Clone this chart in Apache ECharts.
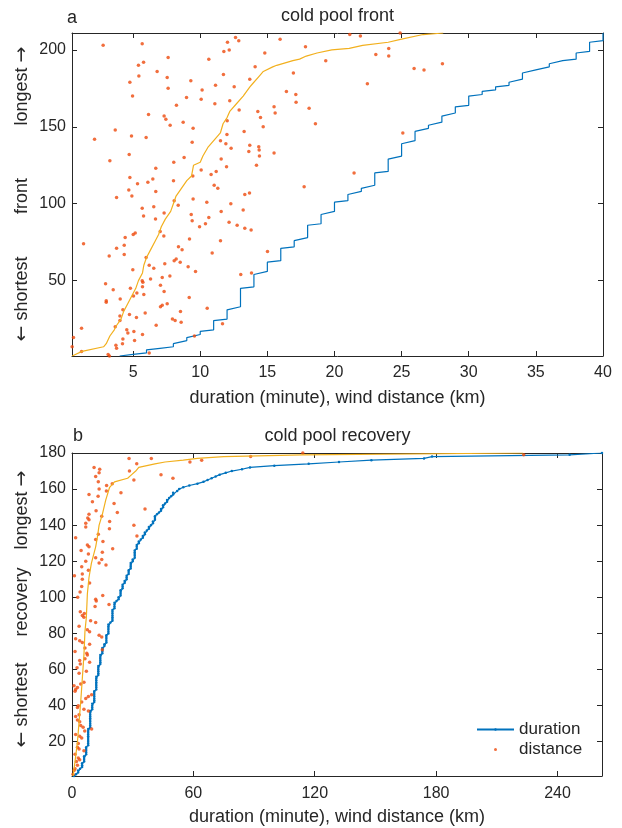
<!DOCTYPE html>
<html><head><meta charset="utf-8">
<script src="https://cdn.jsdelivr.net/npm/echarts@6/dist/echarts.min.js"></script>
<style>html,body{margin:0;padding:0;background:#fff}#c{width:622px;height:828px}</style>
</head><body><div id="c"></div>
<script>
// ---------- panel a : cold pool front ----------
const frontDurMinutes = [4,5,6,7,8,9,10,11,12,13,14,15,16,17,18,19,20,21,22,23,24,25,26,27,28,29,30,31,32,33,34,35,36,37,38,39,40];
const frontDurCounts  = [1,1,3,1,4,4,3,7,8,13,10,7,9,6,9,8,7,6,4,9,10,10,8,4,6,5,7,3,3,4,6,2,4,1,5,7,6];
const frontSortedRank = [1,4,7,9,14,18,20,25,30,35,40,45,50,55,60,65,70,75,80,85,90,95,100,105,110,115,118,125,127,131,137,142,146,152,156,160,165,170,176,178,183,186,189,190,193,194,196,198,200,201,203,205,207,210,211];
const frontSortedDist = [0.46,1.2,2.8,3.0,3.27,3.6,3.7,4.1,4.3,4.6,4.9,5.2,5.4,5.7,5.8,6.0,6.3,6.6,6.9,7.1,7.4,7.8,8.0,8.2,8.6,9.0,9.35,9.5,10.0,10.2,10.6,11.1,11.5,11.7,12.0,12.2,12.7,13.2,13.7,13.9,14.4,14.7,15.4,15.7,16.9,17.4,17.9,18.7,19.8,21.1,22.1,24.0,25.0,26.6,28.1];
// [wind distance km, rank]
const frontDots = [[3.24,1],[3.14,2],[6.2,3],[1.16,4],[3.77,6],[0.46,7],[3.72,8],[4.21,9],[5.11,11],[4.24,12],[0.56,13],[9.57,14],[5.7,15],[4.61,16],[5.06,17],[4.53,18],[1.16,19],[3.67,20],[6.72,21],[11.66,22],[8.58,23],[8.13,24],[4.02,24],[7.93,25],[5.25,26],[4.02,27],[4.73,28],[5.9,29],[8.53,30],[4.24,31],[10.52,32],[7.04,33],[7.17,34],[7.54,35],[3.0,36],[3.0,37],[4.04,38],[9.18,39],[5.03,40],[5.8,41],[5.28,42],[7.31,43],[3.52,44],[4.8,45],[5.7,46],[7.04,47],[2.95,48],[5.73,49],[5.68,50],[6.3,51],[7.17,52],[7.74,53],[13.02,54],[13.82,55],[9.65,56],[4.98,57],[6.54,58],[9.1,59],[6.2,60],[7.36,61],[8.51,62],[8.06,63],[8.21,64],[5.97,65],[3.22,66],[4.34,67],[10.89,68],[15.01,69],[8.65,70],[3.77,71],[8.38,72],[4.34,73],[1.31,74],[11.51,76],[9.2,77],[4.41,78],[7.29,79],[5.01,80],[5.16,81],[7.02,82],[13.79,83],[13.32,84],[9.95,85],[12.75,86],[10.39,87],[12.15,88],[9.4,89],[6.67,90],[10.64,91],[5.78,92],[9.33,93],[7.31,94],[11.56,95],[13.2,96],[5.68,97],[6.54,98],[8.36,99],[12.28,100],[10.49,101],[8.06,102],[9.47,103],[3.77,104],[4.91,105],[13.32,106],[13.67,107],[6.69,108],[4.68,109],[11.31,110],[17.74,111],[11.04,112],[5.33,113],[6.1,114],[8.01,115],[6.47,116],[4.76,117],[9.45,118],[10.81,119],[21.46,120],[11.19,121],[10.07,122],[6.69,123],[11.96,124],[14.19,125],[8.03,127],[3.27,128],[11.56,129],[8.8,130],[14.41,131],[4.71,132],[15.5,133],[13.62,134],[14.39,135],[12.3,136],[14.36,137],[13.69,138],[11.91,139],[9.4,140],[11.51,141],[2.13,142],[5.97,143],[4.88,144],[11.99,145],[25.09,146],[13.27,147],[3.67,148],[9.47,149],[14.69,150],[7.76,151],[18.58,152],[8.73,153],[12.01,154],[7.44,155],[14.49,156],[7.31,157],[6.15,158],[15.58,159],[14.29,160],[12.9,161],[18.11,162],[15.5,163],[8.23,164],[11.09,165],[17.14,166],[12.2,167],[10.07,168],[8.98,169],[4.96,170],[17.12,171],[16.42,173],[10.14,174],[7.61,175],[12.53,176],[11.14,177],[22.45,178],[4.76,179],[9.3,180],[13.69,181],[7.54,182],[5.43,183],[11.73,184],[16.94,185],[6.79,186],[26.67,187],[25.93,188],[14.09,189],[5.4,190],[28.04,191],[5.78,192],[19.35,193],[10.64,194],[7.61,195],[24.04,196],[23.08,197],[14.81,198],[11.76,199],[12.16,200],[24.04,201],[17.84,202],[2.77,203],[5.68,204],[12.03,205],[12.87,206],[15.95,207],[12.63,208],[21.93,209],[21.14,210],[24.89,211]];
const frontXRange = [0.45, 40];
const frontYRange = [1, 211];
const frontXTicks = [5,10,15,20,25,30,35,40];
const frontYTicks = [50,100,150,200];

// ---------- panel b : cold pool recovery ----------
const recDurMinutes = [1,2,3,4,5,6,7,8,9,10,11,12,13,14,15,16,17,18,19,20,21,22,23,24,25,26,27,28,29,30,31,32,33,34,35,36,37,38,39,40,41,42,43,44,45,46,47,48,49,50,52,53,55,58,62,65,67,69,71,73,76,79,84,88,100,117,132,148,174,178,246,262];
const recDurCounts  = [1,1,2,1,3,4,5,10,10,4,7,8,6,6,4,2,5,6,1,7,4,1,2,4,3,2,3,3,4,2,5,3,2,1,2,2,1,2,1,2,3,1,1,2,2,1,2,1,1,2,1,1,1,1,1,1,1,1,1,1,1,1,1,1,1,1,1,1,1,1,1,1];
const recSortedRank = [1,9,20,31,42,55,68,81,89,102,111,119,128,133,140,146,154,161,164,166,168,170,172,174,175,176,177,178,179,180];
const recSortedDist = [0.5,1.5,2.7,3.5,4.3,5.1,5.9,6.4,7.1,7.6,8.4,9.6,11.7,12.5,13.4,15.0,16.7,18.6,21.0,27.5,29.5,31.5,33.0,41.0,46.0,55.0,62.0,75.0,114.0,223.0];
const recDots = [[0.5,2],[1.0,4],[1.5,5],[2.7,7],[2.2,9],[3.8,10],[3.1,11],[1.5,13],[5.9,15],[3.5,16],[2.7,17],[3.1,19],[4.8,22],[3.8,23],[1.8,24],[6.3,26],[9.7,27],[5.5,28],[4.3,29],[3.8,31],[2.7,32],[1.8,34],[3.5,35],[8.1,37],[5.9,38],[2.7,39],[3.1,40],[4.8,42],[6.8,44],[8.1,45],[9.7,46],[1.5,48],[1.8,49],[2.7,50],[1.0,51],[4.3,52],[5.9,53],[3.5,58],[7.1,59],[2.5,61],[4.1,63],[8.7,64],[3.8,65],[6.4,66],[7.6,68],[7.3,69],[1.5,70],[15.0,71],[6.4,72],[8.7,74],[5.1,75],[3.8,76],[1.8,77],[14.7,78],[13.4,79],[8.7,81],[7.6,82],[3.5,84],[11.7,86],[9.2,87],[5.9,89],[5.1,90],[6.1,91],[4.1,92],[11.4,95],[18.3,96],[12.0,98],[11.7,99],[2.8,100],[15.2,101],[4.0,103],[4.8,106],[8.7,108],[5.1,110],[1.2,112],[5.1,113],[8.1,115],[4.8,117],[16.8,118],[13.4,119],[6.8,120],[14.7,121],[11.7,122],[8.1,124],[15.0,125],[4.5,126],[20.1,127],[8.4,128],[7.6,129],[15.3,131],[11.7,132],[1.8,133],[32.1,134],[13.0,135],[18.5,138],[6.8,139],[30.6,140],[6.8,141],[18.6,142],[8.4,143],[7.8,144],[14.7,145],[8.4,146],[22.4,147],[11.9,148],[36.1,149],[20.8,152],[10.1,153],[12.9,156],[8.4,157],[24.2,158],[17.0,159],[13.4,160],[17.1,162],[19.9,163],[13.0,164],[30.6,165],[49.9,166],[11.7,167],[44.0,168],[13.4,169],[28.4,170],[13.7,171],[10.9,172],[32.0,174],[58.3,175],[64.1,176],[28.2,177],[39.2,177],[88.3,178],[223.3,179],[114.1,180]];
const recXRange = [0, 262];
const recYRange = [1, 180];
const recXTicks = [0,60,120,180,240];
const recYTicks = [20,40,60,80,100,120,140,160,180];

const xLabelText = 'duration (minute), wind distance (km)';
const legendNames = ['duration','distance'];

// ---------- build ----------
function expandSorted(values, counts){
  const out = []; let r = 1;
  values.forEach((v,i)=>{ for(let k=0;k<counts[i];k++){ out.push([v, r]); r++; } });
  return out;
}
function zip(xs, ys){ return xs.map((x,i)=>[x, ys[i]]); }

const FONT = '"Liberation Sans", Arial, Helvetica, sans-serif';
const AX = '#262626';
const BLUE = '#0072BD', YEL = '#F2B01E', ORG = '#EE4A0C';

function xAxis(grid, range, ticks, pos, withLabel, margin, gap){
  return {type:'value', gridIndex:grid, min:range[0], max:range[1], position:pos,
    axisLine:{show:true, onZero:false, lineStyle:{color:AX, width:1}},
    axisTick:{show:true, inside:true, length:5, customValues:ticks, lineStyle:{color:AX, width:1}},
    axisLabel:{show:withLabel, customValues:ticks, color:AX, fontSize:16, fontFamily:FONT, margin:margin},
    splitLine:{show:false},
    name: withLabel ? xLabelText : '', nameLocation:'middle', nameGap: gap,
    nameTextStyle:{color:AX, fontSize:18, fontFamily:FONT}};
}
function yAxis(grid, range, ticks, pos, withLabel){
  return {type:'value', gridIndex:grid, min:range[0], max:range[1], position:pos,
    axisLine:{show:true, onZero:false, lineStyle:{color:AX, width:1}},
    axisTick:{show:true, inside:true, length:5, customValues:ticks, lineStyle:{color:AX, width:1}},
    axisLabel:{show:withLabel, customValues:ticks, color:AX, fontSize:16, fontFamily:FONT, margin:6},
    splitLine:{show:false}};
}

const ARROW_RICH = {ar:{fontFamily:'"DejaVu Sans"', fontSize:19, fill:AX, color:AX}};
function vText(x, y, t){
  return {type:'text', x:x, y:y, rotation:Math.PI/2,
    style:{text:t, font:'18px ' + FONT, fill:AX, align:'center', verticalAlign:'middle', rich:ARROW_RICH}};
}
function hText(x, y, t, align){
  return {type:'text', x:x, y:y,
    style:{text:t, font:'18px ' + FONT, fill:AX, align:align||'center', verticalAlign:'middle'}};
}

const chart = echarts.init(document.getElementById('c'), null, {renderer:'canvas'});
chart.setOption({
  animation:false,
  backgroundColor:'#fff',
  grid:[
    {left:72, top:33, width:531, height:323},
    {left:72, top:453, width:530, height:323}
  ],
  xAxis:[
    xAxis(0, frontXRange, frontXTicks, 'bottom', true, 9, 33),
    xAxis(0, frontXRange, frontXTicks, 'top', false, 9, 33),
    xAxis(1, recXRange, recXTicks, 'bottom', true, 10, 32),
    xAxis(1, recXRange, recXTicks, 'top', false, 10, 32)
  ],
  yAxis:[
    yAxis(0, frontYRange, frontYTicks, 'left', true),
    yAxis(0, frontYRange, frontYTicks, 'right', false),
    yAxis(1, recYRange, recYTicks, 'left', true),
    yAxis(1, recYRange, recYTicks, 'right', false)
  ],
  legend:{data:legendNames, left:476, top:721, orient:'vertical', itemWidth:37, itemHeight:3, itemGap:3,
    padding:0, selectedMode:false, textStyle:{color:AX, fontSize:17, fontFamily:FONT}},
  graphic:[
    hText(67, 18, 'a', 'left'),
    hText(337.5, 16, 'cold pool front'),
    vText(22, 86, 'longest {ar|\u2192}'),
    vText(22, 196, 'front'),
    vText(22, 299, '{ar|\u2190} shortest'),
    hText(73, 436, 'b', 'left'),
    hText(337.5, 436, 'cold pool recovery'),
    vText(22, 510, 'longest {ar|\u2192}'),
    vText(22, 602, 'recovery'),
    vText(22, 705, '{ar|\u2190} shortest')
  ],
  series:[
    {type:'line', name:'front duration', xAxisIndex:0, yAxisIndex:0, data:expandSorted(frontDurMinutes, frontDurCounts),
      showSymbol:false, lineStyle:{color:BLUE, width:1.2}, z:3},
    {type:'scatter', name:'front distance', xAxisIndex:0, yAxisIndex:0, data:frontDots,
      symbolSize:3.5, itemStyle:{color:ORG}, z:4},
    {type:'line', name:'front sorted distance', xAxisIndex:0, yAxisIndex:0, data:zip(frontSortedDist, frontSortedRank),
      showSymbol:false, lineStyle:{color:YEL, width:1.2}, z:5},
    {type:'line', name:'duration', xAxisIndex:2, yAxisIndex:2, data:expandSorted(recDurMinutes, recDurCounts),
      showSymbol:true, showAllSymbol:true, symbol:'circle', symbolSize:2.5,
      itemStyle:{color:BLUE}, lineStyle:{color:BLUE, width:1.2}, z:3},
    {type:'scatter', name:'distance', xAxisIndex:2, yAxisIndex:2, data:recDots,
      symbolSize:3.5, itemStyle:{color:ORG}, z:4},
    {type:'line', name:'recovery sorted distance', xAxisIndex:2, yAxisIndex:2, data:zip(recSortedDist, recSortedRank),
      showSymbol:false, lineStyle:{color:YEL, width:1.2}, z:5}
  ]
});
</script></body></html>
